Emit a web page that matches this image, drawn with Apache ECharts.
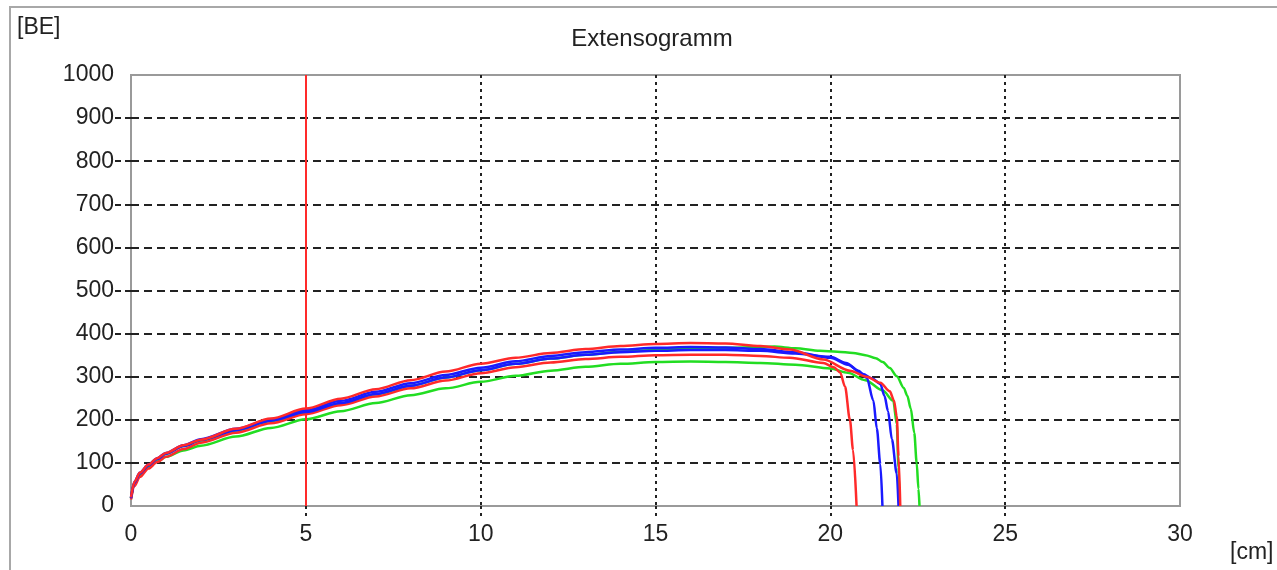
<!DOCTYPE html>
<html>
<head>
<meta charset="utf-8">
<script src="https://cdn.jsdelivr.net/npm/echarts@6/dist/echarts.min.js"></script>
<style>
html,body{margin:0;padding:0;background:#fff;}
#c{width:1277px;height:570px;}
</style>
</head>
<body>
<div id="c"></div>
<script>
// Tick labels
const xTicks = [0, 5, 10, 15, 20, 25, 30];
const yTicks = [0, 100, 200, 300, 400, 500, 600, 700, 800, 900, 1000];
const markX = 5;

// Curves [x cm, BE]
const greenUpper = [[0,18],[0.1,54],[0.25,75],[0.5,94],[0.75,109],[1,121],[1.5,139],[2,152],[3,175],[4,197],[5,217],[6,238],[7,259],[8,279],[9,298],[10,315],[11,330],[12,342],[13,351],[14,358],[15,362],[16,365],[17,367],[18,369],[18.4,370],[19,366],[19.7,360],[20.2,358],[20.65,355],[21,350],[21.3,343],[21.5,334],[21.7,320],[21.9,301],[22.1,274],[22.2,256],[22.3,226],[22.4,170],[22.47,100],[22.52,40],[22.55,0]];
const greenLower = [[0,18],[0.1,50],[0.25,70],[0.5,89],[0.75,103],[1,114],[1.5,129],[2,140],[3,161],[4,181],[5,201],[6,220],[7,239],[8,257],[9,273],[10,288],[11,302],[12,314],[13,323],[14,330],[15,334],[16,335],[17,334],[18,332],[19,328],[20,319],[20.5,309],[21,292],[21.5,268],[21.8,244],[21.9,190],[21.95,90],[21.98,0]];
const redLower = [[0,15],[0.1,46],[0.25,67],[0.5,87],[0.75,102],[1,114],[1.5,132],[2,147],[3,170],[4,192],[5,213],[6,234],[7,254],[8,273],[9,291],[10,308],[11,322],[12,333],[13,341],[14,346],[15,350],[16,351],[17,351],[18,348],[18.84,344],[19.8,332],[20.1,322],[20.28,310],[20.42,277],[20.56,200],[20.65,130],[20.75,0]];
const blueLower = [[0,18],[0.1,54],[0.25,75],[0.5,94],[0.75,109],[1,121],[1.5,139],[2,153],[3,176],[4,198],[5,218],[6,239],[7,260],[8,279],[9,298],[10,315],[11,330],[12,342],[13,351],[14,357],[15,360],[16,362],[17,362],[18,360],[19,354],[20,346],[20.45,332],[20.8,314],[21.04,298],[21.23,245],[21.33,180],[21.43,97],[21.49,0]];
const blueUpper = [[0,20],[0.1,56],[0.25,77],[0.5,96],[0.75,111],[1,123],[1.5,141],[2,155],[3,179],[4,201],[5,222],[6,244],[7,265],[8,285],[9,304],[10,321],[11,336],[12,348],[13,357],[14,363],[15,367],[16,369],[17,368],[18,364],[19,357],[20,344],[20.5,328],[20.93,306],[21.2,296],[21.43,283],[21.55,255],[21.65,220],[21.76,155],[21.9,75],[21.95,0]];
const redUpper = [[0,20],[0.1,56],[0.25,77],[0.5,96],[0.75,111],[1,123],[1.5,141],[2,154],[3,179],[4,203],[5,226],[6,249],[7,271],[8,292],[9,312],[10,330],[11,344],[12,355],[13,364],[14,371],[15,376],[16,378],[17,377],[18,371],[18.84,363],[19.8,340],[20.56,314],[21.03,300],[21.43,286],[21.7,266],[21.82,245],[21.9,208],[21.95,115],[22.0,0]];

const FONT = '"Liberation Sans", Arial, sans-serif';
const TXT = '#222';

function lineSeries(data, color, z) {
  return {
    type: 'line', data: data, showSymbol: false, symbol: 'none',
    smooth: 0.3, smoothMonotone: 'x',
    lineStyle: { color: color, width: 2.5 }, z: z, animation: false
  };
}

const chart = echarts.init(document.getElementById('c'));
const series = [
  lineSeries(greenUpper, '#22dd22', 2),
  lineSeries(greenLower, '#22dd22', 3),
  lineSeries(redLower, '#ff2a2a', 4),
  lineSeries(blueLower, '#1a1aff', 5),
  lineSeries(blueUpper, '#1a1aff', 6),
  lineSeries(redUpper, '#ff2a2a', 7)
];
series[0].markLine = {
  silent: true, symbol: 'none', animation: false,
  label: { show: false },
  lineStyle: { color: '#ff2a2a', type: 'solid', width: 2 },
  data: [{ xAxis: markX }]
};

chart.setOption({
  animation: false,
  backgroundColor: '#fff',
  title: {
    text: 'Extensogramm', left: 647, top: 22, textAlign: 'center',
    textStyle: { fontFamily: FONT, fontSize: 24, fontWeight: 'normal', color: TXT }
  },
  grid: {
    left: 131, right: 97, top: 75, bottom: 64,
    show: true, borderColor: '#9a9a9a', borderWidth: 2, backgroundColor: 'transparent'
  },
  xAxis: {
    type: 'value', min: 0, max: 30, interval: 5,
    axisLine: { show: false },
    axisTick: { show: true, inside: false, length: 10, customValues: [5,10,15,20,25],
      lineStyle: { color: '#222', width: 2, type: [3, 4] } },
    axisLabel: { fontFamily: FONT, fontSize: 23, color: TXT, margin: 17,
      customValues: xTicks, formatter: v => String(v) },
    splitLine: { show: true, lineStyle: { color: '#222', width: 2, type: [3, 4] } }
  },
  yAxis: {
    type: 'value', min: 0, max: 1000, interval: 100,
    axisLine: { show: false },
    axisTick: { show: true, inside: false, length: 16, customValues: [100,200,300,400,500,600,700,800,900],
      lineStyle: { color: '#222', width: 2, type: [6, 4] } },
    axisLabel: { fontFamily: FONT, fontSize: 23, color: TXT, margin: 17,
      customValues: yTicks, formatter: v => String(v) },
    splitLine: { show: true, lineStyle: { color: '#222', width: 2, type: [8, 5] } }
  },
  graphic: [
    { type: 'rect', z: -10, shape: { x: 10, y: 7, width: 1300, height: 620 },
      style: { fill: 'none', stroke: '#a8a8a8', lineWidth: 2 }, silent: true },
    { type: 'text', left: 17, top: 16,
      style: { text: '[BE]', fontFamily: FONT, fontSize: 23, fill: TXT } },
    { type: 'text', left: 1230, top: 541,
      style: { text: '[cm]', fontFamily: FONT, fontSize: 23, fill: TXT } }
  ],
  series: series
});
</script>
</body>
</html>
